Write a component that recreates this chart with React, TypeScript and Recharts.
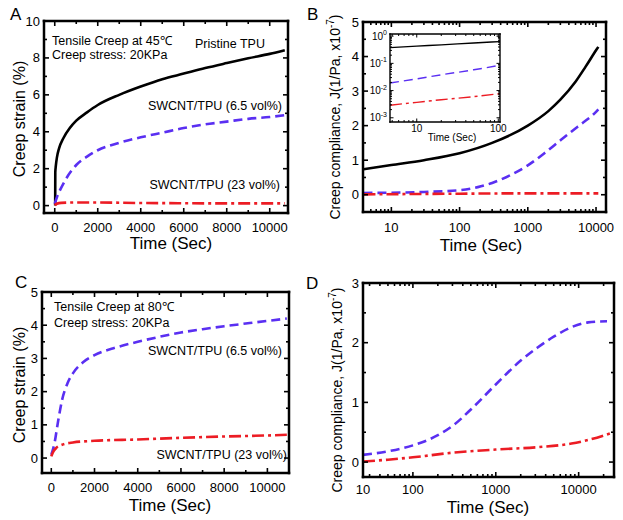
import React from "react";
import { LineChart, Line, XAxis, YAxis } from "recharts";

const FONT = "'Liberation Sans', Arial, Helvetica, sans-serif";

// ---- panel A: creep strain at 45 C ----
const aTimePristine = [20, 25, 50, 100, 200, 400, 700, 1000, 1500, 2000, 3000, 4000, 5000, 6000, 7000, 8000, 9000, 10000, 10700];
const aPristine = [0, 1.8, 2.15, 2.6, 3.1, 3.65, 4.2, 4.6, 5.05, 5.45, 6.0, 6.45, 6.85, 7.15, 7.45, 7.72, 7.98, 8.22, 8.42];
const aTimeLow = [0, 100, 250, 500, 1000, 1500, 2000, 3000, 4000, 5000, 6000, 7000, 8000, 9000, 10000, 10700];
const aLow = [0.1, 0.45, 0.85, 1.4, 2.2, 2.65, 3.0, 3.4, 3.7, 3.95, 4.2, 4.4, 4.55, 4.7, 4.8, 4.9];
const aTimeHigh = [0, 100, 300, 1000, 2000, 4000, 6000, 8000, 10000, 10700];
const aHigh = [0.02, 0.1, 0.15, 0.17, 0.17, 0.14, 0.13, 0.12, 0.12, 0.12];

// ---- panel B: creep compliance at 45 C (log time) ----
const bTimePristine = [3.9, 10, 30, 100, 300, 1000, 2000, 3000, 5000, 7000, 10000, 10800];
const bPristine = [0.74, 0.86, 1.0, 1.2, 1.5, 2.0, 2.42, 2.75, 3.27, 3.7, 4.18, 4.28];
const bTimeLow = [3.9, 30, 100, 185, 300, 570, 1000, 1750, 3070, 5380, 10000, 10800];
const bLow = [0.05, 0.08, 0.13, 0.22, 0.34, 0.58, 0.85, 1.2, 1.59, 1.97, 2.4, 2.47];
const bTimeHigh = [3.9, 100, 1000, 10800];
const bHigh = [0.01, 0.03, 0.04, 0.04];

// inset of B (log-log)
const insTime = [4.7, 10, 20, 50, 105];
const insPristine = [0.38, 0.43, 0.48, 0.56, 0.63];
const insLow = [0.019, 0.027, 0.038, 0.058, 0.085];
const insHigh = [0.0029, 0.0037, 0.0046, 0.006, 0.0077];

// ---- panel C: creep strain at 80 C ----
const cTimeLow = [0, 150, 300, 500, 750, 1000, 1500, 2000, 3000, 4000, 5000, 6000, 7000, 8000, 9000, 10000, 10900];
const cLow = [0.1, 0.45, 1.05, 1.75, 2.25, 2.55, 2.9, 3.1, 3.33, 3.5, 3.65, 3.78, 3.88, 3.97, 4.05, 4.13, 4.2];
const cTimeHigh = [0, 100, 250, 500, 1000, 2000, 4000, 6000, 8000, 10000, 10900];
const cHigh = [0.05, 0.2, 0.32, 0.4, 0.47, 0.52, 0.56, 0.61, 0.65, 0.68, 0.7];

// ---- panel D: creep compliance at 80 C (log time) ----
const dTimeLow = [25, 50, 100, 200, 316, 500, 1000, 2000, 3200, 5000, 8200, 13000, 22000];
const dLow = [0.12, 0.18, 0.28, 0.45, 0.63, 0.88, 1.3, 1.7, 1.92, 2.1, 2.26, 2.34, 2.36];
const dTimeHigh = [25, 50, 100, 316, 1000, 3200, 8200, 13000, 24000];
const dHigh = [0.01, 0.04, 0.08, 0.16, 0.21, 0.25, 0.31, 0.37, 0.48];

// ---- ticks ----
const linTimeTicks = [0, 2000, 4000, 6000, 8000, 10000];
const linTimeLabels = ["0", "2000", "4000", "6000", "8000", "10000"];
const linTimeMinor = [1000, 3000, 5000, 7000, 9000];
const aYTicks = [0, 2, 4, 6, 8, 10];
const aYLabels = ["0", "2", "4", "6", "8", "10"];
const aYMinor = [1, 3, 5, 7, 9];
const fiveTicks = [0, 1, 2, 3, 4, 5];
const fiveLabels = ["0", "1", "2", "3", "4", "5"];
const fiveMinor = [0.5, 1.5, 2.5, 3.5, 4.5];
const dYTicks = [0, 1, 2, 3];
const dYLabels = ["0", "1", "2", "3"];
const dYMinor = [0.5, 1.5, 2.5];
const bXTicks = [10, 100, 1000, 10000];
const bXLabels = ["10", "100", "1000", "10000"];
const bXMinor = [5, 6, 7, 8, 9, 20, 30, 40, 50, 60, 70, 80, 90, 200, 300, 400, 500, 600, 700, 800, 900, 2000, 3000, 4000, 5000, 6000, 7000, 8000, 9000];
const dXTicks = [25, 100, 1000, 10000];
const dXLabels = ["10", "100", "1000", "10000"];
const dXMinor = [30, 40, 50, 60, 70, 80, 90, 200, 300, 400, 500, 600, 700, 800, 900, 2000, 3000, 4000, 5000, 6000, 7000, 8000, 9000, 20000];
const insXTicks = [10, 100];
const insXLabels = ["10", "100"];
const insXMinor = [5, 6, 7, 8, 9, 20, 30, 40, 50, 60, 70, 80, 90];
const insYTicks = [0.001, 0.01, 0.1, 1];
const insYExp = ["-3", "-2", "-1", "0"];
const insYMinor = [0.002, 0.003, 0.004, 0.005, 0.006, 0.007, 0.008, 0.009, 0.02, 0.03, 0.04, 0.05, 0.06, 0.07, 0.08, 0.09, 0.2, 0.3, 0.4, 0.5, 0.6, 0.7, 0.8, 0.9];

type Kind = "black" | "blue" | "red";
type Series = { t: number[]; v: number[]; kind: Kind };
type AxisCfg = {
  domain: [number, number];
  scale: "linear" | "log";
  majors: number[];
  labels: React.ReactNode[];
  minors: number[];
};

const toPoints = (t: number[], v: number[]) => t.map((x, i) => ({ t: x, v: v[i] }));

function makeTick(side: string, cfg: AxisCfg, o: { major: number; minor: number; gap: number; fs: number; sw: number }) {
  return (props: any) => {
    const { x, y, payload } = props;
    const idx = cfg.majors.indexOf(payload.value);
    const len = idx >= 0 ? o.major : o.minor;
    let c = [x, y, x, y - len];
    if (side === "top") c = [x, y, x, y + len];
    if (side === "left") c = [x, y, x + len, y];
    if (side === "right") c = [x, y, x - len, y];
    return (
      <g>
        <line x1={c[0]} y1={c[1]} x2={c[2]} y2={c[3]} stroke="#000" strokeWidth={o.sw} />
        {idx >= 0 && side === "bottom" && (
          <text x={x} y={y + o.gap} textAnchor="middle" dominantBaseline="central" fontSize={o.fs} fontFamily={FONT} fill="#000">
            {cfg.labels[idx]}
          </text>
        )}
        {idx >= 0 && side === "left" && (
          <text x={x - o.gap} y={y} textAnchor="end" dominantBaseline="central" fontSize={o.fs} fontFamily={FONT} fill="#000">
            {cfg.labels[idx]}
          </text>
        )}
      </g>
    );
  };
}

type PanelProps = {
  box: { x: number; y: number; w: number; h: number };
  plot: { l: number; t: number; r: number; b: number };
  x: AxisCfg;
  y: AxisCfg;
  series: Series[];
  tickFs: number;
  xGap: number;
  yGap: number;
  major: number;
  minor: number;
  tickW: number;
  frameW: number;
  lineW: number;
  yW: number;
  xH: number;
  xTitle: React.ReactNode;
  xTitleAt: [number, number];
  xTitleFs: number;
  yTitle?: React.ReactNode;
  yTitleAt?: [number, number];
  yTitleFs?: number;
  background?: string;
};

function Panel(p: PanelProps) {
  const pl = p.plot.l - p.box.x;
  const pt = p.plot.t - p.box.y;
  const pr = p.plot.r - p.box.x;
  const pb = p.plot.b - p.box.y;
  // top axis is 1px tall and right axis 1px wide, so they stay in the layout
  const margin = { left: pl - p.yW, top: pt - 1, right: p.box.w - pr - 1, bottom: p.box.h - pb - p.xH };
  const frame = { stroke: "#000", strokeWidth: p.frameW, strokeLinecap: "square" as const };
  const tk = { major: p.major, minor: p.minor, fs: p.tickFs, sw: p.tickW };
  const xAll = [...p.x.majors, ...p.x.minors].sort((a, b) => a - b);
  const yAll = [...p.y.majors, ...p.y.minors].sort((a, b) => a - b);
  const xtx = p.xTitleAt[0] - p.box.x;
  const xty = p.xTitleAt[1] - p.box.y;
  const styles = {
    black: { stroke: "#000000", strokeDasharray: undefined },
    blue: { stroke: "#5a2ff2", strokeDasharray: "9 5" },
    red: { stroke: "#ec1c24", strokeDasharray: "12 4 3 4" },
  };
  const first = p.series[0];
  return (
    <div style={{ position: "absolute", left: p.box.x, top: p.box.y, width: p.box.w, height: p.box.h }}>
      {p.background && (
        <div style={{ position: "absolute", left: pl, top: pt, width: pr - pl, height: pb - pt, background: p.background }} />
      )}
      <LineChart width={p.box.w} height={p.box.h} margin={margin}>
        <XAxis
          xAxisId="b"
          type="number"
          dataKey="t"
          scale={p.x.scale}
          domain={p.x.domain}
          allowDataOverflow
          ticks={xAll}
          interval={0}
          tickLine={false}
          tickSize={0}
          tickMargin={0}
          tick={makeTick("bottom", p.x, { ...tk, gap: p.xGap })}
          axisLine={frame}
          height={p.xH}
          label={{
            content: () => (
              <text x={xtx} y={xty} textAnchor="middle" dominantBaseline="central" fontSize={p.xTitleFs} fontFamily={FONT} fill="#000">
                {p.xTitle}
              </text>
            ),
          }}
        />
        <XAxis
          xAxisId="t"
          orientation="top"
          type="number"
          dataKey="t"
          scale={p.x.scale}
          domain={p.x.domain}
          allowDataOverflow
          ticks={xAll}
          interval={0}
          tickLine={false}
          tickSize={0}
          tickMargin={0}
          tick={makeTick("top", p.x, { ...tk, gap: 0 })}
          axisLine={frame}
          height={1}
        />
        <YAxis
          yAxisId="l"
          type="number"
          scale={p.y.scale}
          domain={p.y.domain}
          allowDataOverflow
          ticks={yAll}
          interval={0}
          tickLine={false}
          tickSize={0}
          tickMargin={0}
          tick={makeTick("left", p.y, { ...tk, gap: p.yGap })}
          axisLine={frame}
          width={p.yW}
          label={
            p.yTitle
              ? {
                  content: () => {
                    const cx = p.yTitleAt![0] - p.box.x;
                    const cy = p.yTitleAt![1] - p.box.y;
                    return (
                      <text
                        x={cx}
                        y={cy}
                        transform={`rotate(-90 ${cx} ${cy})`}
                        textAnchor="middle"
                        dominantBaseline="central"
                        fontSize={p.yTitleFs}
                        fontFamily={FONT}
                        fill="#000"
                      >
                        {p.yTitle}
                      </text>
                    );
                  },
                }
              : undefined
          }
        />
        <YAxis
          yAxisId="r"
          orientation="right"
          type="number"
          scale={p.y.scale}
          domain={p.y.domain}
          allowDataOverflow
          ticks={yAll}
          interval={0}
          tickLine={false}
          tickSize={0}
          tickMargin={0}
          tick={makeTick("right", p.y, { ...tk, gap: 0 })}
          axisLine={frame}
          width={1}
        />
        {/* invisible copy of the first series, bound to the mirror axes so they render */}
        <Line
          xAxisId="t"
          yAxisId="r"
          data={toPoints(first.t, first.v)}
          dataKey="v"
          stroke="none"
          dot={false}
          activeDot={false}
          isAnimationActive={false}
        />
        {p.series.map((s, i) => (
          <Line
            key={i}
            xAxisId="b"
            yAxisId="l"
            data={toPoints(s.t, s.v)}
            dataKey="v"
            type="monotone"
            dot={false}
            activeDot={false}
            isAnimationActive={false}
            stroke={styles[s.kind].stroke}
            strokeDasharray={styles[s.kind].strokeDasharray}
            strokeWidth={p.lineW}
          />
        ))}
      </LineChart>
    </div>
  );
}

const compTitle = (
  <>
    Creep compliance, J(1/Pa, x10
    <tspan dy={-5} fontSize={10}>
      -7
    </tspan>
    <tspan dy={5}>)</tspan>
  </>
);

const insYLabels = insYExp.map((e) => (
  <>
    10
    <tspan dy={-4} fontSize={7}>
      {e}
    </tspan>
  </>
));

const mainStyle = { tickFs: 13, major: 5, minor: 3, tickW: 1.6, frameW: 2.5, lineW: 2.6, yW: 30, xH: 40, xTitleFs: 17 };

function Note({ x, y, text, right }: { x: number; y: number; text: string; right?: boolean }) {
  return (
    <div
      style={{
        position: "absolute",
        left: right ? undefined : x,
        right: right ? 623 - x : undefined,
        top: y,
        transform: "translateY(-50%)",
        fontFamily: FONT,
        fontSize: 12.5,
        lineHeight: 1,
        whiteSpace: "nowrap",
        color: "#000",
      }}
    >
      {text}
    </div>
  );
}

function Letter({ x, y, text }: { x: number; y: number; text: string }) {
  return (
    <div style={{ position: "absolute", left: x, top: y, transform: "translateY(-50%)", fontFamily: FONT, fontSize: 17, lineHeight: 1 }}>
      {text}
    </div>
  );
}

export default function App() {
  return (
    <div style={{ position: "absolute", left: 0, top: 0, width: 623, height: 520, background: "#fff", overflow: "hidden" }}>
      <Panel
        {...mainStyle}
        box={{ x: 0, y: 0, w: 310, h: 260 }}
        plot={{ l: 44, t: 21, r: 288, b: 213 }}
        x={{ domain: [-500, 10850], scale: "linear", majors: linTimeTicks, labels: linTimeLabels, minors: linTimeMinor }}
        y={{ domain: [-0.4, 10], scale: "linear", majors: aYTicks, labels: aYLabels, minors: aYMinor }}
        series={[
          { t: aTimePristine, v: aPristine, kind: "black" },
          { t: aTimeLow, v: aLow, kind: "blue" },
          { t: aTimeHigh, v: aHigh, kind: "red" },
        ]}
        xGap={14}
        yGap={4}
        xTitle="Time (Sec)"
        xTitleAt={[171, 243]}
        yTitle="Creep strain (%)"
        yTitleAt={[19, 119]}
        yTitleFs={16}
      />
      <Panel
        {...mainStyle}
        box={{ x: 310, y: 0, w: 313, h: 260 }}
        plot={{ l: 363, t: 22, r: 606, b: 212 }}
        x={{ domain: [3.84, 14000], scale: "log", majors: bXTicks, labels: bXLabels, minors: bXMinor }}
        y={{ domain: [-0.5, 5], scale: "linear", majors: fiveTicks, labels: fiveLabels, minors: fiveMinor }}
        series={[
          { t: bTimePristine, v: bPristine, kind: "black" },
          { t: bTimeLow, v: bLow, kind: "blue" },
          { t: bTimeHigh, v: bHigh, kind: "red" },
        ]}
        xGap={15}
        yGap={4}
        xTitle="Time (Sec)"
        xTitleAt={[481, 245]}
        yTitle={compTitle}
        yTitleAt={[335, 117]}
        yTitleFs={14}
      />
      <Panel
        box={{ x: 366, y: 28, w: 142, h: 118 }}
        plot={{ l: 390, t: 34, r: 500, b: 122 }}
        x={{ domain: [4.7, 105], scale: "log", majors: insXTicks, labels: insXLabels, minors: insXMinor }}
        y={{ domain: [0.0007, 1.2], scale: "log", majors: insYTicks, labels: insYLabels, minors: insYMinor }}
        series={[
          { t: insTime, v: insPristine, kind: "black" },
          { t: insTime, v: insLow, kind: "blue" },
          { t: insTime, v: insHigh, kind: "red" },
        ]}
        tickFs={10}
        major={3.5}
        minor={2}
        tickW={1}
        frameW={1.4}
        lineW={1.4}
        yW={20}
        xH={20}
        xGap={6}
        yGap={3}
        xTitle="Time (Sec)"
        xTitleAt={[452, 137]}
        xTitleFs={10}
        background="#fff"
      />
      <Panel
        {...mainStyle}
        box={{ x: 0, y: 260, w: 310, h: 260 }}
        plot={{ l: 42, t: 292, r: 289, b: 473 }}
        x={{ domain: [-430, 11000], scale: "linear", majors: linTimeTicks, labels: linTimeLabels, minors: linTimeMinor }}
        y={{ domain: [-0.45, 5], scale: "linear", majors: fiveTicks, labels: fiveLabels, minors: fiveMinor }}
        series={[
          { t: cTimeLow, v: cLow, kind: "blue" },
          { t: cTimeHigh, v: cHigh, kind: "red" },
        ]}
        xGap={14}
        yGap={4}
        xTitle="Time (Sec)"
        xTitleAt={[170, 505]}
        yTitle="Creep strain (%)"
        yTitleAt={[19, 385]}
        yTitleFs={16}
      />
      <Panel
        {...mainStyle}
        box={{ x: 310, y: 260, w: 313, h: 260 }}
        plot={{ l: 363, t: 283, r: 614, b: 477 }}
        x={{ domain: [25, 26700], scale: "log", majors: dXTicks, labels: dXLabels, minors: dXMinor }}
        y={{ domain: [-0.25, 3], scale: "linear", majors: dYTicks, labels: dYLabels, minors: dYMinor }}
        series={[
          { t: dTimeLow, v: dLow, kind: "blue" },
          { t: dTimeHigh, v: dHigh, kind: "red" },
        ]}
        xGap={12}
        yGap={4}
        xTitle="Time (Sec)"
        xTitleAt={[488, 507]}
        yTitle={compTitle}
        yTitleAt={[337, 390]}
        yTitleFs={14}
      />

      <Note x={52} y={41} text="Tensile Creep at 45℃" />
      <Note x={52} y={55} text="Creep stress: 20KPa" />
      <Note x={195} y={44} text="Pristine TPU" />
      <Note x={282} y={106} text="SWCNT/TPU (6.5 vol%)" right />
      <Note x={280} y={185} text="SWCNT/TPU (23 vol%)" right />

      <Note x={54} y={307} text="Tensile Creep at 80℃" />
      <Note x={54} y={323} text="Creep stress: 20KPa" />
      <Note x={282} y={351} text="SWCNT/TPU (6.5 vol%)" right />
      <Note x={287} y={455} text="SWCNT/TPU (23 vol%)" right />

      <Letter x={10} y={14} text="A" />
      <Letter x={307} y={14} text="B" />
      <Letter x={15} y={282} text="C" />
      <Letter x={306} y={283} text="D" />
    </div>
  );
}
